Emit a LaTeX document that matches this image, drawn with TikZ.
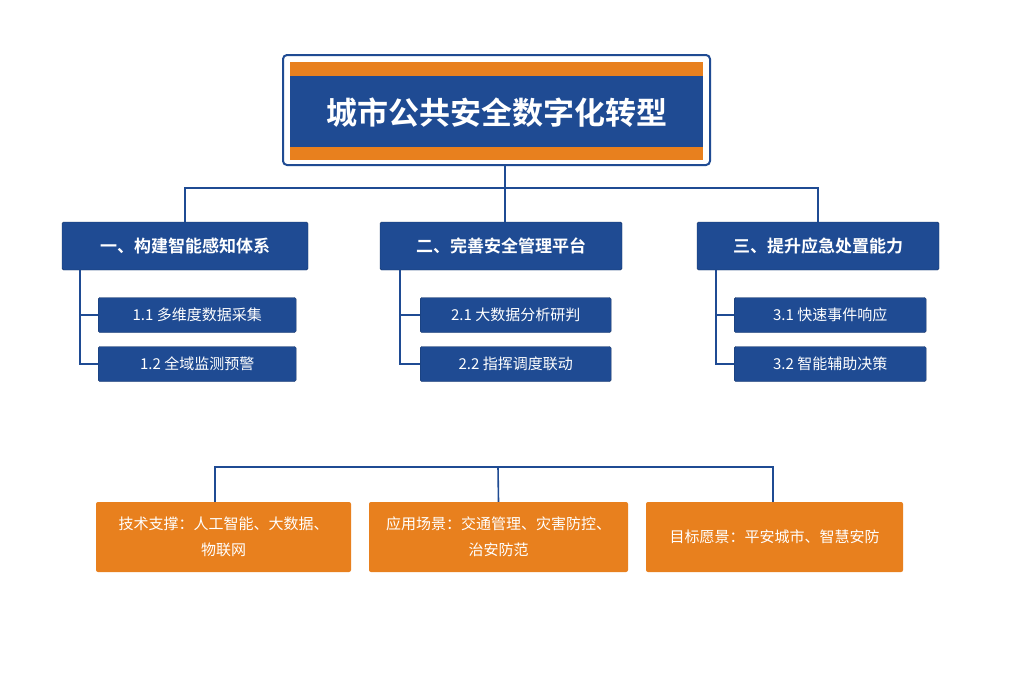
\documentclass[tikz,border=0pt]{standalone}
\usepackage{fontspec}
\newfontfamily\cjk{Noto Sans CJK SC}[BoldFont={Noto Sans CJK SC Bold}]
\definecolor{navy}{HTML}{1F4B93}
\definecolor{org}{HTML}{E8801E}
\begin{document}
\begin{tikzpicture}[x=1pt,y=-1pt,
  lvl/.style={fill=navy,draw=navy!70!black,rounded corners=1.5pt,text=white,font=\cjk\bfseries\fontsize{17}{20}\selectfont,inner sep=0pt},
  sub/.style={fill=navy,draw=navy!70!black,rounded corners=1.5pt,text=white,font=\cjk\fontsize{15}{18}\selectfont,inner sep=0pt},
  obox/.style={fill=org,rounded corners=2pt,text=white,font=\cjk\fontsize{15}{26}\selectfont,align=center,inner sep=0pt},
  ln/.style={draw=navy,line width=1.6pt}]
\useasboundingbox (0,0) rectangle (1024,683);
\fill[white] (0,0) rectangle (1024,683);
% title
\draw[navy,line width=2pt,rounded corners=4pt,fill=white] (283,55) rectangle (710,165);
\fill[org] (290,62) rectangle (703,160);
\fill[navy] (290,76) rectangle (703,147);
\node[font=\cjk\bfseries\fontsize{31}{36}\selectfont,text=white] (t) at (496.5,113) {城市公共安全数字化转型};
\coordinate (tb) at (505,165);
% level 1
\node[lvl,minimum width=246,minimum height=48] (a) at (185,246) {一、构建智能感知体系};
\node[lvl,minimum width=242,minimum height=48] (b) at (501,246) {二、完善安全管理平台};
\node[lvl,minimum width=242,minimum height=48] (c) at (818,246) {三、提升应急处置能力};
\coordinate (j) at (505,188);
\draw[ln] (tb) -- (j);
\draw[ln] (a.north) |- (j) -| (c.north);
\draw[ln] (j) -- (b.north -| j);
% subs
\node[sub,minimum width=198,minimum height=35,anchor=west] (a1) at (98,315) {1.1 多维度数据采集};
\node[sub,minimum width=198,minimum height=35,anchor=west] (a2) at (98,364) {1.2 全域监测预警};
\node[sub,minimum width=191,minimum height=35,anchor=west] (b1) at (420,315) {2.1 大数据分析研判};
\node[sub,minimum width=191,minimum height=35,anchor=west] (b2) at (420,364) {2.2 指挥调度联动};
\node[sub,minimum width=192,minimum height=35,anchor=west] (c1) at (734,315) {3.1 快速事件响应};
\node[sub,minimum width=192,minimum height=35,anchor=west] (c2) at (734,364) {3.2 智能辅助决策};
\foreach \p/\x in {a/80,b/400,c/716}{
  \draw[ln] (\x,270) |- (\p2.west);
  \draw[ln] (\x,315) -- (\p1.west);
}
% bottom
\node[obox,minimum width=255,minimum height=70] (o1) at (223.5,537) {技术支撑：人工智能、大数据、\\物联网};
\node[obox,minimum width=259,minimum height=70] (o2) at (498.5,537) {应用场景：交通管理、灾害防控、\\治安防范};
\node[obox,minimum width=257,minimum height=70] (o3) at (774.5,537) {目标愿景：平安城市、智慧安防};
\coordinate (h1) at (215,467);
\coordinate (h3) at (773,467);
\draw[ln] (215,502) -- (h1) -- (h3) -- (773,502);
\draw[ln] (498,467) -- (o2.north);
\end{tikzpicture}
\end{document}
